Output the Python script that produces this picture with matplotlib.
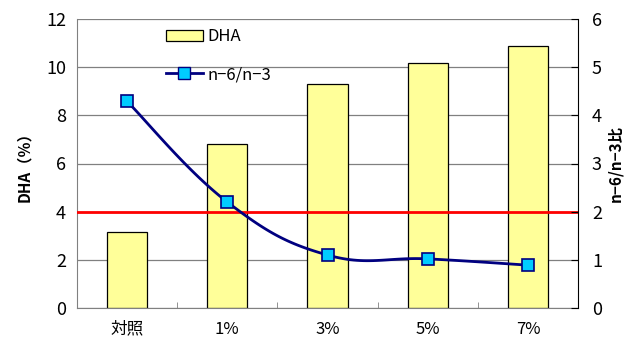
import numpy as np
import matplotlib
matplotlib.use("Agg")
import matplotlib.pyplot as plt

plt.rcParams['font.family'] = ['Noto Sans CJK JP', 'DejaVu Sans']

categories = ['対照', '1%', '3%', '5%', '7%']
dha = [3.15, 6.8, 9.3, 10.17, 10.87]
ratio = [4.29, 2.2, 1.1, 1.02, 0.89]
ref_level = 4

fig = plt.figure(figsize=(6.33, 3.42), dpi=100)
ax = fig.add_axes([77/633, 34/342, 501/633, 289/342])
x = np.arange(len(categories))

ax.set_ylim(0, 12)
ax.set_xlim(-0.5, len(categories) - 0.5)
ax.set_yticks(range(0, 13, 2))
ax.grid(axis='y', color='#808080', lw=0.9)
ax.set_axisbelow(True)
bars = ax.bar(x, dha, width=0.4, color='#FFFF99', edgecolor='black', lw=0.9, label='DHA', zorder=2)
ax.axhline(ref_level, color='#FF0000', lw=2, zorder=3)

for s in ['top', 'right']:
    ax.spines[s].set_visible(False)
ax.spines['left'].set_color('#808080')
ax.spines['bottom'].set_color('#808080')
ax.set_xticks(x)
ax.set_xticklabels(categories, fontsize=12)
ax.set_xticks(np.arange(-0.5, len(categories) - 0.4, 1), minor=True)
ax.tick_params(axis='x', which='major', length=0, pad=9)
ax.tick_params(axis='x', which='minor', length=4, direction='in', color='#808080')
ax.tick_params(axis='y', length=0, labelsize=13, pad=8)
ax.set_ylabel('DHA（％）', fontsize=11, fontweight='bold', labelpad=10)

ax2 = ax.twinx()
ax2.set_ylim(0, 6)
ax2.set_yticks(range(0, 7))
for s in ['top', 'left', 'bottom']:
    ax2.spines[s].set_visible(False)
ax2.spines['right'].set_color('black')
ax2.tick_params(axis='y', direction='in', length=5, labelsize=13, pad=10)
ax2.set_ylabel('n−6/n−3比', fontsize=11, fontweight='bold', rotation=90, labelpad=4)

# smooth curve (Catmull-Rom style) through the data points
pts = np.column_stack([x, ratio]).astype(float)
P = np.vstack([pts[0], pts, pts[-1]])
xs, ys = [], []
k = 0.4
for i in range(1, len(P) - 2):
    p0, p1, p2, p3 = P[i-1], P[i], P[i+1], P[i+2]
    c1 = p1 + (p2 - p0) * k / 2
    c2 = p2 - (p3 - p1) * k / 2
    t = np.linspace(0, 1, 30)[:, None]
    c = (1-t)**3*p1 + 3*(1-t)**2*t*c1 + 3*(1-t)*t**2*c2 + t**3*p2
    xs.extend(c[:, 0]); ys.extend(c[:, 1])
ax2.plot(xs, ys, color='#000080', lw=2, zorder=4)
ax2.plot(x, ratio, ls='none', marker='s', ms=9, mfc='#00CCFF', mec='#000080', mew=1.2, zorder=5)
line_handle = plt.Line2D([], [], color='#000080', lw=2, marker='s', ms=8, mfc='#00CCFF', mec='#000080')

leg = ax.legend([bars, line_handle], ['DHA', 'n−6/n−3'], loc='upper left',
                bbox_to_anchor=(0.148, 1.02), frameon=False, fontsize=12,
                handlelength=2.2, labelspacing=1.25, handletextpad=0.3)
leg.set_zorder(10)

fig.savefig('out.png', dpi=100)
